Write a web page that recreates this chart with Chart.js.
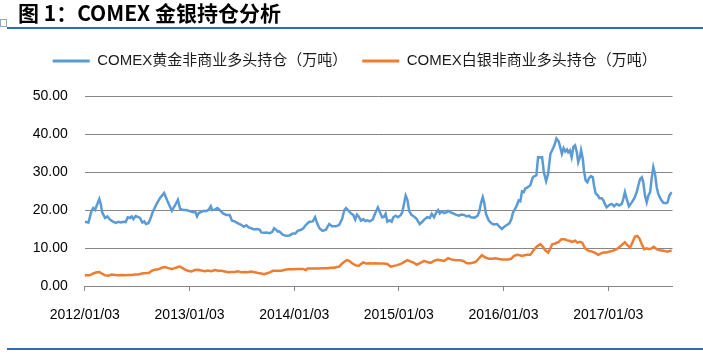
<!DOCTYPE html>
<html>
<head>
<meta charset="utf-8">
<script src="https://cdn.jsdelivr.net/npm/chart.js@4.4.1/dist/chart.umd.min.js"></script>
<style>
html, body { margin: 0; padding: 0; background: #fff; }
#wrap { position: relative; width: 703px; height: 354px; overflow: hidden; }
#c { position: absolute; left: 0; top: 0; }
#title { position: absolute; left: 18px; top: -1px; font: bold 21px "Noto Sans CJK SC", sans-serif; line-height: 26px; color: #000; white-space: nowrap; }
.rule { position: absolute; left: 7px; right: 0; height: 2px; background: #2e6db4; }
#icon { position: absolute; left: 0; top: 19px; width: 5px; height: 6px; border: 1px solid #8fa9cf; }
</style>
</head>
<body>
<div id="wrap">
  <canvas id="c" width="703" height="354"></canvas>
  <div id="title">图 1：COMEX 金银持仓分析</div>
  <div class="rule" style="top:27px"></div>
  <div class="rule" style="top:348px"></div>
  <div id="icon"></div>
</div>
<script>
// x = days since 2012/01/03, y = 万吨
const yearLabels = ['2012/01/03', '2013/01/03', '2014/01/03', '2015/01/03', '2016/01/03', '2017/01/03'];
const yearDays = [0, 366, 731, 1096, 1461, 1827];
const lastDay = 2051;
const seriesNames = ['COMEX黄金非商业多头持仓（万吨）', 'COMEX白银非商业多头持仓（万吨）'];

const goldDay = [
  0,13,24,30,36,42,51,56,61,71,
  79,88,100,109,117,126,135,143,150,158,
  164,170,178,187,193,201,208,214,222,228,
  237,251,263,277,288,304,315,325,333,343,
  355,366,378,386,392,398,407,416,424,433,
  440,445,454,463,471,483,494,506,514,523,
  535,546,555,564,572,581,591,602,611,616,
  626,634,646,654,661,669,674,679,691,702,
  714,726,735,743,755,763,772,784,796,804,
  811,819,830,842,848,853,863,877,888,898,
  906,912,921,929,937,944,950,956,964,972,
  979,987,995,1005,1013,1023,1030,1038,1044,1050,
  1056,1064,1071,1077,1085,1093,1103,1108,1114,1120,
  1126,1132,1140,1149,1158,1169,1178,1186,1195,1204,
  1211,1219,1227,1233,1239,1246,1254,1262,1268,1277,
  1286,1297,1306,1314,1323,1333,1341,1347,1361,1371,
  1377,1383,1389,1394,1400,1410,1419,1427,1439,1447,
  1456,1464,1474,1482,1489,1494,1503,1508,1514,1520,
  1526,1532,1537,1546,1555,1563,1569,1576,1582,1590,
  1596,1602,1610,1617,1625,1631,1639,1646,1654,1660,
  1665,1671,1677,1683,1687,1693,1699,1705,1711,1717,
  1722,1728,1732,1738,1742,1748,1754,1760,1766,1773,
  1777,1783,1790,1796,1804,1810,1815,1821,1830,1839,
  1847,1856,1865,1874,1879,1885,1891,1899,1909,1918,
  1926,1932,1938,1944,1949,1955,1961,1967,1973,1978,
  1984,1990,1996,2001,2010,2019,2028,2034,2040,2048
];
const goldVal = [
  16.9,16.7,19.8,20.5,20.0,21.2,22.9,21.6,19.4,17.9,
  18.3,17.5,16.9,16.6,16.9,16.7,16.9,16.8,18.1,17.9,
  18.3,17.6,18.4,18.1,17.9,16.7,17.0,16.3,16.5,17.4,
  19.4,21.6,23.2,24.5,22.5,19.8,21.2,22.7,20.3,20.0,
  20.0,19.7,19.4,19.5,18.3,19.2,19.5,19.8,19.7,20.1,
  21.0,20.0,20.1,20.5,20.0,19.1,18.7,18.7,17.2,17.0,
  16.5,16.1,15.6,16.0,15.4,15.2,14.9,15.0,14.8,14.1,
  14.0,14.1,13.9,14.2,15.2,14.7,14.3,14.4,13.5,13.2,
  13.3,13.8,13.8,14.5,14.8,15.2,16.1,16.9,17.0,18.1,
  16.5,15.2,14.5,14.8,15.7,16.3,15.7,15.7,16.1,17.6,
  20.0,20.5,19.8,19.1,18.7,17.5,18.8,18.3,17.2,17.6,
  17.1,17.3,17.0,17.5,19.0,20.7,19.4,18.1,18.2,19.0,
  16.9,17.3,16.9,18.1,18.5,18.1,18.7,19.4,21.6,23.8,
  22.7,19.8,18.7,18.3,17.7,16.3,16.9,17.6,18.1,17.9,
  19.0,18.1,19.4,20.0,19.1,19.6,19.2,19.4,19.8,19.4,
  19.1,18.7,18.5,18.8,18.7,18.3,18.5,18.1,18.0,18.5,
  19.6,21.9,23.4,21.9,19.0,17.2,16.5,16.2,16.3,15.6,
  15.0,15.6,16.1,16.5,17.6,19.2,20.5,21.2,22.5,22.3,
  24.9,24.7,25.6,26.0,26.5,28.5,28.9,29.1,33.9,33.8,
  33.9,30.0,27.6,29.5,34.8,35.7,37.0,38.8,38.0,36.3,
  34.8,36.3,35.4,35.9,35.2,35.7,33.9,36.6,37.0,35.3,
  32.6,33.9,35.7,33.5,30.4,27.8,27.3,28.4,28.9,28.6,
  26.5,24.3,23.9,23.1,23.1,22.5,21.6,20.7,21.3,21.6,
  21.0,21.6,21.2,21.6,22.8,24.7,23.0,21.0,22.0,23.1,
  24.7,26.5,28.2,28.6,27.3,23.8,22.0,23.8,24.7,28.2,
  31.3,29.5,26.0,24.3,22.8,21.9,21.8,22.0,23.8,24.7
];

const silverDay = [
  0,18,30,42,51,59,71,82,94,106,
  117,129,141,152,164,176,187,199,216,225,
  234,245,257,269,280,292,304,315,325,333,
  337,349,360,372,384,395,407,419,430,442,
  454,465,477,489,500,512,523,535,546,558,
  570,581,593,605,616,626,634,646,657,668,
  685,696,708,726,743,761,772,778,796,813,
  830,848,859,871,879,888,894,906,915,923,
  933,944,956,964,972,982,993,1005,1016,1027,
  1044,1056,1068,1079,1091,1103,1114,1126,1138,1149,
  1158,1170,1184,1195,1207,1219,1230,1242,1254,1268,
  1279,1295,1310,1321,1333,1347,1363,1375,1386,1398,
  1410,1421,1433,1445,1456,1468,1479,1489,1497,1508,
  1518,1526,1535,1543,1555,1567,1578,1590,1598,1607,
  1617,1625,1631,1642,1654,1663,1675,1683,1692,1700,
  1711,1719,1728,1736,1746,1757,1769,1781,1792,1802,
  1810,1821,1833,1844,1856,1868,1877,1885,1893,1903,
  1912,1920,1928,1935,1944,1952,1961,1969,1978,1986,
  1996,2007,2019,2033,2044,2048
];
const silverVal = [
  2.8,2.8,3.3,3.6,3.7,3.3,2.8,2.7,3.0,2.9,
  2.8,2.9,2.8,2.9,2.9,3.0,3.0,3.3,3.4,3.5,
  4.0,4.3,4.4,4.8,5.0,4.7,4.5,4.7,5.0,5.1,
  4.9,4.4,4.0,3.8,4.2,4.3,4.1,3.9,4.1,3.9,
  4.2,4.0,4.0,3.8,3.6,3.7,3.7,3.9,3.6,3.7,
  3.6,3.8,3.6,3.4,3.3,3.1,3.3,3.6,4.0,4.0,
  4.0,4.2,4.4,4.4,4.5,4.5,4.2,4.6,4.6,4.6,
  4.7,4.7,4.8,4.8,5.0,5.1,5.6,6.4,6.8,6.6,
  6.0,5.5,5.3,5.8,6.2,5.9,6.0,5.9,6.0,5.9,
  5.9,5.8,5.1,5.3,5.5,5.8,6.3,6.8,6.4,6.1,
  5.6,6.0,6.6,6.3,6.1,6.6,6.9,6.8,6.6,7.3,
  7.0,6.8,6.8,6.6,6.0,6.0,6.3,7.2,8.1,7.5,
  7.2,7.2,7.3,7.1,7.0,7.0,7.0,7.2,7.9,8.2,
  8.1,7.9,8.1,8.2,8.2,9.5,10.4,11.0,10.4,9.4,
  8.8,9.9,11.0,11.2,11.6,12.3,12.3,12.0,11.9,11.6,
  11.9,11.4,11.6,11.4,9.9,9.3,9.1,8.7,8.2,8.6,
  8.8,8.8,9.1,9.3,9.7,10.4,11.0,11.5,10.8,10.1,
  11.6,13.0,13.2,12.6,11.0,9.7,9.9,9.7,9.9,10.3,
  9.7,9.4,9.3,9.0,9.3,9.3
];

const gold = goldDay.map((d, i) => ({ x: d, y: goldVal[i] }));
const silver = silverDay.map((d, i) => ({ x: d, y: silverVal[i] }));

const tickFont = { family: '"Liberation Sans", Arial, sans-serif', size: 14 };
const gridGray = '#868686';

new Chart(document.getElementById('c'), {
  type: 'line',
  data: {
    datasets: [
      { label: seriesNames[0], data: gold, borderColor: '#5b9bd5', backgroundColor: '#5b9bd5',
        borderWidth: 2.5, pointRadius: 0, tension: 0 },
      { label: seriesNames[1], data: silver, borderColor: '#ed7d31', backgroundColor: '#ed7d31',
        borderWidth: 2.5, pointRadius: 0, tension: 0 }
    ]
  },
  options: {
    responsive: false,
    animation: false,
    devicePixelRatio: 1,
    layout: { padding: { top: 38.5, left: 37, right: 30.5, bottom: 14.2 } },
    plugins: {
      legend: {
        position: 'top',
        labels: {
          boxWidth: 37, boxHeight: 3, padding: 15, color: '#1a1a1a',
          font: { family: '"Liberation Sans", "Noto Sans CJK SC", sans-serif', size: 15 },
          generateLabels: (chart) => Chart.defaults.plugins.legend.labels.generateLabels(chart)
            .map(l => Object.assign(l, { lineWidth: 0 }))
        }
      },
      // empty title used as spacer below the legend
      title: { display: true, text: '', weight: 500, padding: 0, font: { size: 17.5, lineHeight: 1 } },
      tooltip: { enabled: false }
    },
    scales: {
      x: {
        type: 'linear', min: 0, max: lastDay,
        afterBuildTicks: (s) => { s.ticks = yearDays.map(v => ({ value: v })); },
        ticks: {
          callback: (v, i) => yearLabels[i],
          color: '#000', font: tickFont, padding: 16, maxRotation: 0, autoSkip: false
        },
        grid: { drawOnChartArea: false, drawTicks: true, tickLength: 5, color: gridGray },
        border: { display: true, color: gridGray }
      },
      y: {
        min: 0, max: 50,
        afterFit: (s) => { s.width = 47.7; s._computeLabelArea = () => null; },
        ticks: { stepSize: 10, callback: (v) => v.toFixed(2), padding: 17, color: '#000', font: tickFont },
        grid: { color: gridGray, drawTicks: false },
        border: { display: false }
      }
    }
  }
});
</script>
</body>
</html>
